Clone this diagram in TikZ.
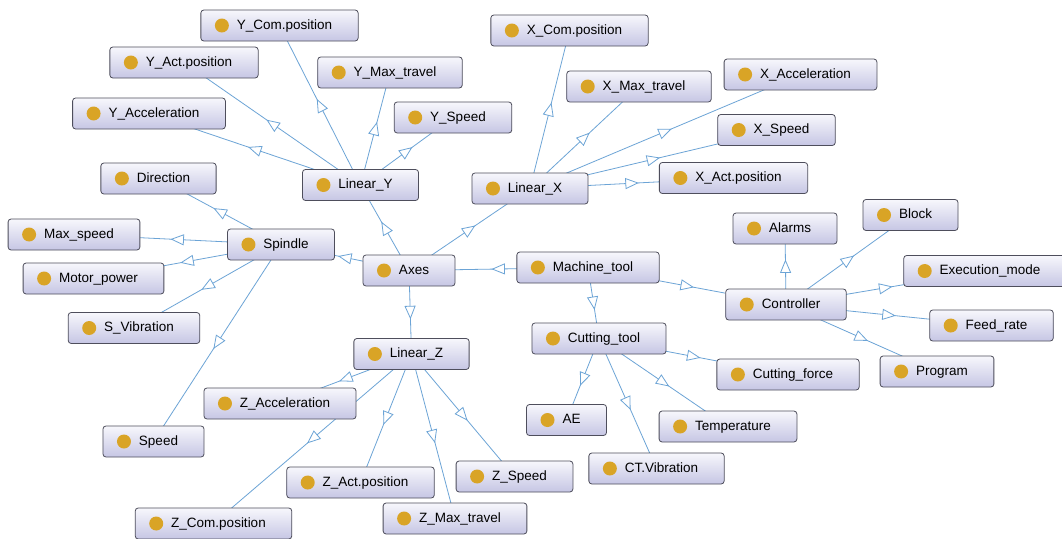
\documentclass[tikz,border=0pt]{standalone}
\usepackage{fontspec}
\setmainfont{Liberation Sans}
\usetikzlibrary{decorations.markings,backgrounds}

\definecolor{edgec}{RGB}{108,164,214}
\definecolor{nodeborder}{RGB}{78,78,92}
\definecolor{nodetop}{RGB}{247,247,252}
\definecolor{nodebot}{RGB}{198,198,228}
\definecolor{dotc}{RGB}{217,164,38}

\newcommand\objfont{\fontsize{13.5}{16}\selectfont}

\tikzset{
  obj/.style={draw=nodeborder, line width=0.8pt, rounded corners=3pt,
    top color=nodetop, bottom color=nodebot,
    minimum height=31pt, inner xsep=26pt, inner ysep=0pt,
    text height=10pt, text depth=3pt, font=\objfont,
    path picture={\fill[dotc] ([xshift=21pt]path picture bounding box.west) circle (7pt);}},
  isa/.style={draw=edgec, line width=0.8pt, postaction={decorate},
    decoration={markings, mark=at position 0.5 with {
      \draw[draw=edgec, line width=0.8pt, fill=white, line join=miter]
        (6pt,0pt) -- (-6pt,5pt) -- (-6pt,-5pt) -- cycle;}}}
}

% an ontology class box: name, centre, label
\newcommand\cls[3]{\node[obj] (#1) at (#2) {\hspace*{10pt}#3};}

\begin{document}
\begin{tikzpicture}[x=1pt,y=-1pt]
\useasboundingbox (0,0) rectangle (1062,538);

% core classes
\cls{mt}{588,267.5}{Machine\_tool}
\cls{axes}{409,270.5}{Axes}
\cls{ly}{360.5,185}{Linear\_Y}
\cls{lx}{530,188.5}{Linear\_X}
\cls{lz}{411.5,354}{Linear\_Z}
\cls{sp}{281,244.5}{Spindle}
\cls{ct}{599,338.5}{Cutting\_tool}
\cls{ctrl}{786,304.5}{Controller}

% spindle
\cls{dir}{158.5,178.5}{Direction}
\cls{maxsp}{74,234.5}{Max\_speed}
\cls{motor}{93.5,278.5}{Motor\_power}
\cls{svib}{134,328}{S\_Vibration}
\cls{speed}{153.5,441.5}{Speed}

% linear Y
\cls{yc}{279.5,25.5}{Y\_Com.position}
\cls{ya}{184,62.5}{Y\_Act.position}
\cls{ym}{390,72.5}{Y\_Max\_travel}
\cls{yacc}{149,113.5}{Y\_Acceleration}
\cls{ysp}{453,117.5}{Y\_Speed}

% linear X
\cls{xc}{569.5,30.5}{X\_Com.position}
\cls{xm}{639,86.5}{X\_Max\_travel}
\cls{xacc}{800.5,74.5}{X\_Acceleration}
\cls{xsp}{776.5,130}{X\_Speed}
\cls{xa}{733.5,178}{X\_Act.position}

% linear Z
\cls{zacc}{280,403.5}{Z\_Acceleration}
\cls{za}{360.5,482.5}{Z\_Act.position}
\cls{zsp}{514.5,476.5}{Z\_Speed}
\cls{zc}{213.5,523.5}{Z\_Com.position}
\cls{zm}{455,518.5}{Z\_Max\_travel}

% cutting tool
\cls{cf}{788,374.5}{Cutting\_force}
\cls{ae}{566.5,420}{AE}
\cls{temp}{728,426.5}{Temperature}
\cls{ctvib}{656.5,468.5}{CT.Vibration}

% controller
\cls{alarms}{785,228.5}{Alarms}
\cls{block}{910.5,215}{Block}
\cls{exec}{985,271}{Execution\_mode}
\cls{feed}{991.5,325.5}{Feed\_rate}
\cls{prog}{937,371.5}{Program}

\begin{pgfonlayer}{background}
\fill[white] (0,0) rectangle (1062,538);
% subclass links, parent to child
\foreach \p/\c in {mt/axes, mt/ct, mt/ctrl,
    axes/sp, axes/ly, axes/lx, axes/lz,
    sp/dir, sp/maxsp, sp/motor, sp/svib, sp/speed,
    ly/yc, ly/ya, ly/ym, ly/yacc, ly/ysp,
    lx/xc, lx/xm, lx/xacc, lx/xsp, lx/xa,
    lz/zacc, lz/zc, lz/za, lz/zm, lz/zsp,
    ct/cf, ct/ae, ct/temp, ct/ctvib,
    ctrl/alarms, ctrl/block, ctrl/exec, ctrl/feed, ctrl/prog}
  \draw[isa] (\p.center) -- (\c.center);
\end{pgfonlayer}
\end{tikzpicture}
\end{document}
